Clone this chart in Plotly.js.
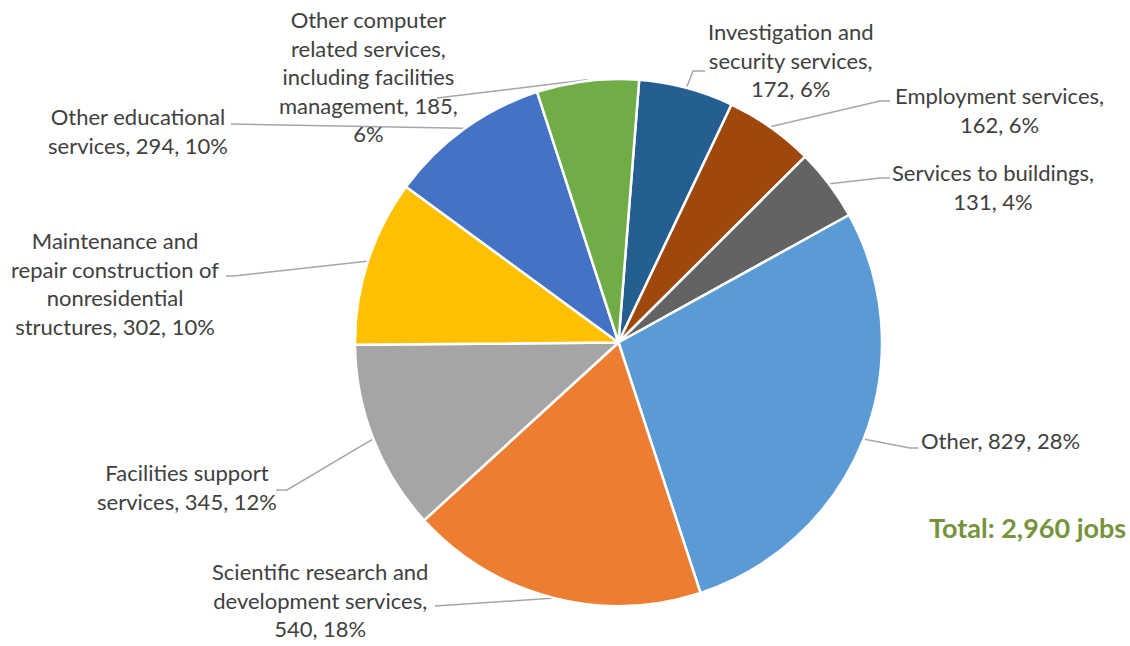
<!DOCTYPE html>
<html>
<head>
<meta charset="utf-8">
<script src="https://cdn.plot.ly/plotly-3.0.1.min.js"></script>
<style>html,body{margin:0;padding:0;background:#fff;}#chart{width:1130px;height:646px;}</style>
</head>
<body>
<div id="chart"></div>
<script>
// ---- data ----
const categories = [
  "Investigation and security services",
  "Employment services",
  "Services to buildings",
  "Other",
  "Scientific research and development services",
  "Facilities support services",
  "Maintenance and repair construction of nonresidential structures",
  "Other educational services",
  "Other computer related services, including facilities management"
];
const values = [172, 162, 131, 829, 540, 345, 302, 294, 185];
const percentLabels = ["6%", "6%", "4%", "28%", "18%", "12%", "10%", "10%", "6%"];
const totalLabel = "Total: 2,960 jobs";
const colors = ["#255E91", "#9E480E", "#636363", "#5B9BD5", "#ED7D31", "#A5A5A5", "#FFC000", "#4472C4", "#70AD47"];

// ---- label layout (wrapping and positions, in pixels) ----
const wrappedNames = [
  "Investigation and<br>security services",
  "Employment services",
  "Services to buildings",
  "Other",
  "Scientific research and<br>development services",
  "Facilities support<br>services",
  "Maintenance and<br>repair construction of<br>nonresidential<br>structures",
  "Other educational<br>services",
  "Other computer<br>related services,<br>including facilities<br>management"
];
const sepNameValue = [",<br>", ",<br>", ",<br>", ", ", ",<br>", ", ", ", ", ", ", ", "];
const sepValuePct  = [", ", ", ", ", ", ", ", ", ", ", ", ", ", ", ", ",<br>"];
const labelCenter = [[790, 60], [999, 110], [993, 187], [1000, 440], [320, 600], [187, 487], [115, 283], [138, 131], [368, 76]];
const leaderElbow = [[693, 71], [880, 101], [880, 178], [910, 448], [445, 606], [287, 490], [234, 276], [240, 124], [445, 97]];
const leaderEnd   = [[705, 71], [890, 101], [890, 178], [918, 448], [435, 606], [276, 490], [226, 276], [231, 124], [437, 98]];

const W = 1130, H = 646;
const cx = 618.5, cy = 342.5, R = 263.5;
const rotationDeg = 4.5;

const total = values.reduce((a, b) => a + b, 0);

const traces = [];
traces.push({
  type: "pie",
  labels: categories,
  values: values,
  sort: false,
  direction: "clockwise",
  rotation: rotationDeg,
  textinfo: "none",
  hoverinfo: "label+value+percent",
  marker: {colors: colors, line: {color: "#FFFFFF", width: 2.5}},
  domain: {x: [(cx - R) / W, (cx + R) / W], y: [(H - cy - R) / H, (H - cy + R) / H]},
  showlegend: false
});

// leader lines from slice mid-angle on the rim
let cum = 0;
const annotations = [];
for (let i = 0; i < values.length; i++) {
  const mid = rotationDeg + (cum + values[i] / 2) / total * 360;
  cum += values[i];
  const a = mid * Math.PI / 180;
  const ex = cx + (R + 1) * Math.sin(a);
  const ey = cy - (R + 1) * Math.cos(a);
  traces.push({
    type: "scatter", mode: "lines",
    x: [ex, leaderElbow[i][0], leaderEnd[i][0]],
    y: [ey, leaderElbow[i][1], leaderEnd[i][1]],
    line: {color: "#A6A6A6", width: 1.5},
    hoverinfo: "skip", showlegend: false
  });
  annotations.push({
    x: labelCenter[i][0], y: labelCenter[i][1], xref: "x", yref: "y",
    text: wrappedNames[i] + sepNameValue[i] + values[i] + sepValuePct[i] + percentLabels[i],
    showarrow: false, xanchor: "center", yanchor: "middle", align: "center",
    font: {family: "Lato, 'Open Sans', sans-serif", size: 22, color: "#404040"}
  });
}
annotations.push({
  x: 1027, y: 527, xref: "x", yref: "y",
  text: "<b>" + totalLabel + "</b>", showarrow: false, xanchor: "center", yanchor: "middle",
  font: {family: "Lato, 'Open Sans', sans-serif", size: 27, color: "#77933C"}
});

const layout = {
  width: W, height: H,
  margin: {l: 0, r: 0, t: 0, b: 0},
  paper_bgcolor: "#FFFFFF", plot_bgcolor: "rgba(0,0,0,0)",
  xaxis: {range: [0, W], visible: false, fixedrange: true},
  yaxis: {range: [H, 0], visible: false, fixedrange: true},
  annotations: annotations,
  showlegend: false
};

Plotly.newPlot("chart", traces, layout, {displayModeBar: false, staticPlot: true});
</script>
</body>
</html>
